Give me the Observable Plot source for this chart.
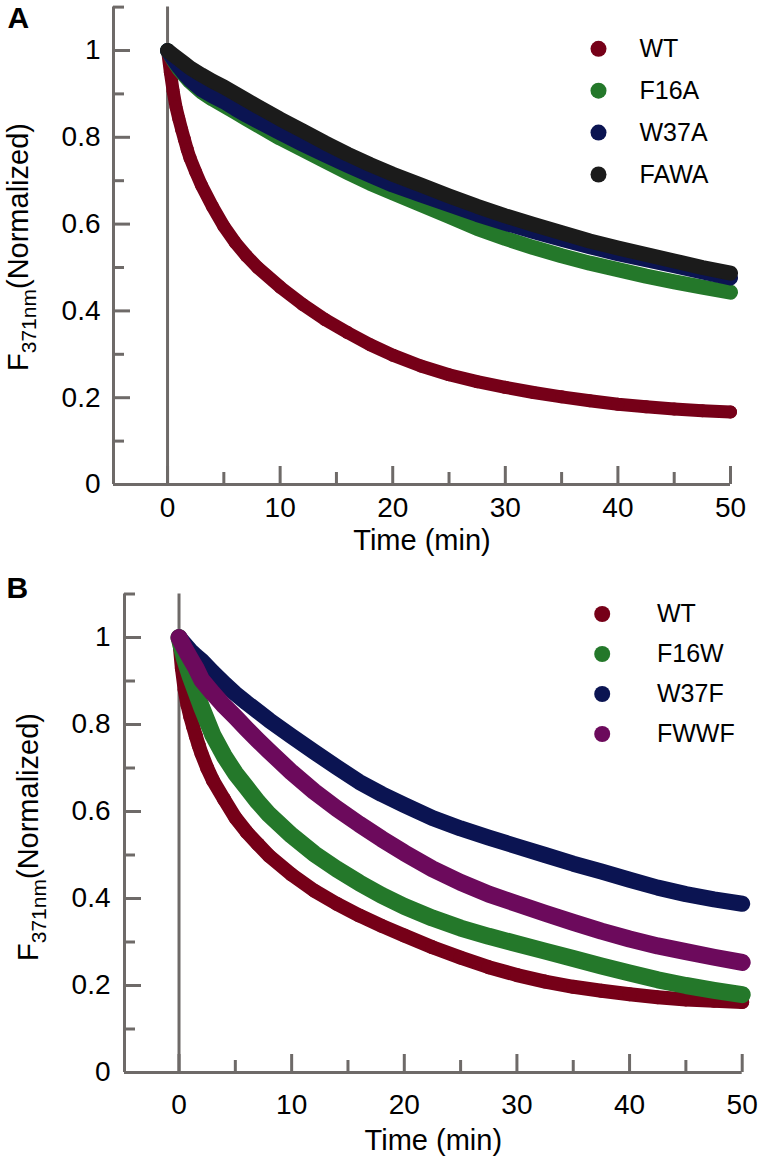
<!DOCTYPE html>
<html><head><meta charset="utf-8">
<script src="https://cdn.jsdelivr.net/npm/d3@7"></script>
<script src="https://cdn.jsdelivr.net/npm/@observablehq/plot@0.6"></script>
<style>
body{margin:0;background:#fff;font-family:"Liberation Sans",Arial,sans-serif;}
#chart svg{display:block}
</style></head><body><div id="chart"></div>
<script>
// ---------- data ----------
const timeWT = [0,0.25,0.5,0.75,1,1.25,1.5,1.75,2,2.5,3,4,5,6,7,8,10,12,14,16,18,20,22.5,25,27.5,30,32.5,35,37.5,40,42.5,45,47.5,50];
const time   = [0,0.5,1,1.5,2,3,4,5,6,7,8,10,12,14,16,18,20,22.5,25,27.5,30,32.5,35,37.5,40,42.5,45,47.5,50];

// Panel A
const wtA  = [1.0,0.95,0.906,0.87,0.843,0.818,0.795,0.772,0.752,0.72,0.69,0.64,0.595,0.558,0.527,0.5,0.455,0.415,0.38,0.35,0.322,0.298,0.273,0.253,0.237,0.224,0.212,0.202,0.193,0.185,0.179,0.174,0.17,0.167];
const f16a = [1.0,0.978,0.958,0.943,0.928,0.905,0.888,0.873,0.858,0.843,0.828,0.798,0.772,0.745,0.719,0.694,0.672,0.645,0.618,0.59,0.567,0.546,0.527,0.51,0.495,0.48,0.467,0.455,0.443];
const w37a = [1.0,0.98,0.962,0.946,0.932,0.91,0.895,0.882,0.866,0.851,0.837,0.81,0.784,0.759,0.735,0.712,0.69,0.667,0.645,0.622,0.602,0.583,0.565,0.548,0.532,0.518,0.504,0.49,0.476];
const fawa = [1.0,0.99,0.98,0.97,0.96,0.944,0.929,0.916,0.901,0.886,0.871,0.842,0.815,0.787,0.761,0.737,0.715,0.69,0.665,0.641,0.619,0.599,0.58,0.561,0.545,0.53,0.515,0.5,0.487];

// Panel B
const wtB  = [1.0,0.93,0.88,0.845,0.818,0.795,0.773,0.752,0.733,0.7,0.672,0.628,0.586,0.553,0.525,0.498,0.455,0.418,0.388,0.361,0.337,0.315,0.288,0.264,0.242,0.224,0.209,0.197,0.188,0.18,0.173,0.168,0.165,0.162];
const f16w = [1.0,0.95,0.91,0.875,0.84,0.776,0.728,0.688,0.655,0.622,0.593,0.545,0.503,0.468,0.436,0.407,0.382,0.355,0.332,0.313,0.296,0.279,0.262,0.245,0.229,0.213,0.2,0.189,0.179];
const w37f = [1.0,0.985,0.97,0.958,0.947,0.92,0.895,0.871,0.85,0.83,0.81,0.773,0.737,0.702,0.668,0.64,0.615,0.585,0.561,0.54,0.52,0.5,0.48,0.462,0.443,0.425,0.41,0.398,0.388];
const fwwf = [1.0,0.975,0.952,0.93,0.903,0.872,0.843,0.817,0.79,0.764,0.739,0.69,0.646,0.607,0.571,0.537,0.505,0.468,0.437,0.41,0.388,0.366,0.345,0.325,0.307,0.291,0.278,0.265,0.253];

const namesA = ["WT","F16A","W37A","FAWA"];
const namesB = ["WT","F16W","W37F","FWWF"];

const majorY = [0,0.2,0.4,0.6,0.8,1];
const minorY = [0.1,0.3,0.5,0.7,0.9,1.1];
const majorX = [0,10,20,30,40,50];
const minorX = [5,15,25,35,45];
const yDomain = [0, 1.1];

// ---------- styles ----------
const C = {wt:"#760018", green:"#24782a", navy:"#0b1452", black:"#1b1b1b", purple:"#6c0a5c"};
const axisColor = "#6e6a68";
const FONT = "'Liberation Sans', Arial, Helvetica, sans-serif";

function rows(t, v) { return t.map((x, i) => ({t: x, v: v[i]})); }

function panel(cfg) {
  const marks = [];
  marks.push(Plot.ruleX([0], {stroke: axisColor, strokeWidth: 3}));
  for (const s of cfg.series) {
    const d = rows(s.t, s.v);
    marks.push(Plot.line(d, {x: "t", y: "v", stroke: s.color, strokeWidth: s.w, strokeLinecap: "round", strokeLinejoin: "round"}));
    if (s.dots) marks.push(Plot.dot(d, {x: "t", y: "v", r: s.w / 2, fill: s.color}));
  }
  // axes
  marks.push(Plot.ruleX([cfg.xDomain[0]], {stroke: axisColor, strokeWidth: 3}));
  marks.push(Plot.ruleY([0], {stroke: axisColor, strokeWidth: 3}));
  marks.push(Plot.axisY(majorY, {tickSize: -17, tickPadding: cfg.yPad, stroke: axisColor, strokeWidth: 3, fontSize: 28, tickFormat: d => String(d), label: null}));
  marks.push(Plot.axisY(minorY, {tickSize: -11, stroke: axisColor, strokeWidth: 3, tickFormat: () => "", label: null}));
  marks.push(Plot.axisX(majorX, {tickSize: -18, tickPadding: cfg.xPad, stroke: axisColor, strokeWidth: 3, fontSize: 28, tickFormat: d => String(d), label: null}));
  marks.push(Plot.axisX(minorX, {tickSize: -12, stroke: axisColor, strokeWidth: 3, tickFormat: () => "", label: null}));
  // x title
  marks.push(Plot.text(["Time (min)"], {frameAnchor: "bottom", dy: cfg.titleDy, fontSize: 29, lineAnchor: "middle"}));
  // panel letter
  marks.push(Plot.text([cfg.letter], {frameAnchor: "top-left", dx: cfg.letterDx, dy: cfg.letterDy, fontSize: 30, fontWeight: "bold", textAnchor: "start", lineAnchor: "top"}));
  // legend
  cfg.series.forEach((s, i) => {
    marks.push(Plot.dot([s.name], {frameAnchor: "top-left", dx: cfg.legDx, dy: cfg.legDy + i * cfg.legStep, r: 8, fill: s.color}));
    marks.push(Plot.text([s.name], {frameAnchor: "top-left", dx: cfg.legTx, dy: cfg.legDy + i * cfg.legStep, fontSize: 25, textAnchor: "start", lineAnchor: "middle"}));
  });

  const svg = Plot.plot({
    width: 762, height: cfg.height,
    marginLeft: cfg.ml, marginRight: cfg.mr, marginTop: cfg.mt, marginBottom: cfg.mb,
    x: {domain: cfg.xDomain},
    y: {domain: yDomain},
    style: {fontFamily: FONT, background: "white", color: "black", overflow: "visible"},
    marks
  });

  // y-axis title with subscript
  const sel = d3.select(svg);
  const t = sel.append("text")
    .attr("transform", `translate(${cfg.yTitleX},${cfg.yTitleY}) rotate(-90)`)
    .attr("text-anchor", "middle")
    .attr("font-family", FONT)
    .attr("font-size", 29)
    .attr("fill", "black");
  t.append("tspan").text("F");
  t.append("tspan").attr("font-size", 21).attr("dy", 8).text("371nm");
  t.append("tspan").attr("dy", -8).text("(Normalized)");
  return svg;
}

const root = document.getElementById("chart");

root.appendChild(panel({
  letter: "A", height: 570, ml: 113, mr: 32, mt: 6.6, mb: 86,
  xDomain: [-4.8, 50],
  yPad: 30, xPad: 31, titleDy: 56,
  letterDx: -106, letterDy: 0,
  legDx: 485, legTx: 526, legDy: 41.7, legStep: 41.9,
  yTitleX: 28, yTitleY: 247,
  series: [
    {name: namesA[0], t: timeWT, v: wtA,  color: C.wt,    w: 13, dots: true},
    {name: namesA[1], t: time,   v: f16a, color: C.green, w: 15},
    {name: namesA[2], t: time,   v: w37a, color: C.navy,  w: 15},
    {name: namesA[3], t: time,   v: fawa, color: C.black, w: 15}
  ]
}));

root.appendChild(panel({
  letter: "B", height: 592, ml: 124, mr: 20.3, mt: 23.5, mb: 90,
  xDomain: [-4.84, 50],
  yPad: 31, xPad: 40, titleDy: 68,
  letterDx: -118, letterDy: -17,
  legDx: 477.7, legTx: 532.5, legDy: 20, legStep: 40,
  yTitleX: 38, yTitleY: 267,
  series: [
    {name: namesB[0], t: timeWT, v: wtB,  color: C.wt,     w: 14, dots: true},
    {name: namesB[1], t: time,   v: f16w, color: C.green,  w: 17},
    {name: namesB[2], t: time,   v: w37f, color: C.navy,   w: 16},
    {name: namesB[3], t: time,   v: fwwf, color: C.purple, w: 17}
  ]
}));
</script></body></html>
